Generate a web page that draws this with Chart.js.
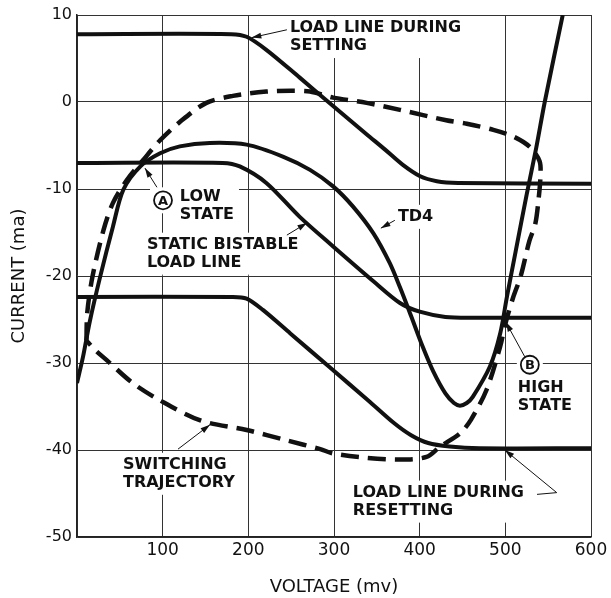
<!DOCTYPE html>
<html>
<head>
<meta charset="utf-8">
<script src="https://cdn.jsdelivr.net/npm/chart.js@4.4.0/dist/chart.umd.min.js"></script>
<style>
    html, body { margin: 0; padding: 0; background: #fff; }
    #wrap { width: 611px; height: 598px; }
</style>
</head>
<body>
<div id="wrap"><canvas id="ivChart" width="611" height="598"></canvas></div>
<script>
    // voltage (mv) / current (ma) pairs
    var settingVoltage = [0, 180, 198, 221, 260, 291, 338, 360, 380, 400, 420, 445, 600];
    var settingCurrent = [7.8, 7.8, 7.5, 6.0, 2.8, 0.2, -3.7, -5.5, -7.2, -8.5, -9.1, -9.3, -9.4];

    var staticVoltage = [0, 170, 190, 221, 260, 299, 346, 377, 400, 430, 460, 600];
    var staticCurrent = [-7.0, -7.0, -7.4, -9.3, -13.2, -16.6, -20.6, -23.1, -24.1, -24.7, -24.8, -24.8];

    var resetVoltage = [0, 182, 198, 217, 249, 295, 340, 370, 390, 410, 435, 470, 600];
    var resetCurrent = [-22.4, -22.4, -22.6, -23.9, -26.6, -30.5, -34.3, -36.9, -38.3, -39.2, -39.6, -39.8, -39.8];

    var td4Voltage = [0, 7, 15, 27, 42, 54, 74, 97, 120, 155, 198, 241, 272, 299, 322, 346, 365, 377, 390, 403, 416, 430, 440, 447, 455, 462, 482, 494, 502, 512, 525, 536, 546, 567];
    var td4Current = [-32.3, -29.3, -25.2, -20.1, -14.3, -10.1, -7.4, -5.9, -5.1, -4.7, -4.9, -6.3, -7.8, -9.7, -12.0, -15.1, -18.5, -21.3, -24.6, -28.0, -31.0, -33.5, -34.6, -34.9, -34.6, -33.9, -30.4, -26.6, -22.3, -17.2, -10.6, -5.3, 0, 10];

    var switchVoltage = [11, 12, 18, 31, 42, 58, 77, 97, 120, 151, 182, 221, 250, 272, 299, 338, 377, 431, 455, 486, 510, 529, 540, 541, 539, 535, 528, 518, 509, 500, 494, 478, 460, 447, 424, 408, 377, 338, 299, 284, 245, 198, 144, 97, 65, 35, 20, 11];
    var switchCurrent = [-27.4, -24.2, -20.1, -14.7, -11.6, -9.0, -6.7, -4.4, -2.3, -0.1, 0.7, 1.2, 1.3, 1.2, 0.5, -0.1, -0.9, -2.1, -2.5, -3.2, -4.0, -5.2, -6.8, -8.5, -11.0, -14.0, -16.0, -20.0, -22.5, -25.5, -28.1, -33.1, -36.5, -38.1, -39.6, -40.8, -41.1, -40.9, -40.4, -39.9, -38.9, -37.7, -36.6, -34.3, -32.3, -29.7, -28.4, -27.4];

    var voltageTicks = [0, 100, 200, 300, 400, 500, 600];
    var currentTicks = [10, 0, -10, -20, -30, -40, -50];

    var ink = '#111';
    var font = 'DejaVu Sans';
    var noteFont = 'bold 16px "' + font + '"';

    // labels and leaders, placed in data units
    var notes = [
        { lines: ['LOAD LINE DURING', 'SETTING'], x: 248.5, y: 8.5 },
        { lines: ['LOW', 'STATE'], x: 120, y: -10.9, circle: { text: 'A', x: 100.4, y: -11.3 } },
        { lines: ['STATIC BISTABLE', 'LOAD LINE'], x: 81.7, y: -16.4 },
        { lines: ['TD4'], x: 374.6, y: -13.2 },
        { lines: ['HIGH', 'STATE'], x: 514.6, y: -32.9, circle: { text: 'B', x: 528.6, y: -30.2 } },
        { lines: ['SWITCHING', 'TRAJECTORY'], x: 53.7, y: -41.7 },
        { lines: ['LOAD LINE DURING', 'RESETTING'], x: 322, y: -44.9 }
    ];
    var leaders = [
        [[245, 8.3], [204, 7.4]],
        [[93.3, -9.8], [79.3, -7.6]],
        [[245, -15.3], [268.4, -13.9]],
        [[371, -13.6], [354.7, -14.5]],
        [[522.8, -29.3], [500.6, -25.3]],
        [[117.9, -39.9], [155.2, -37.1]],
        [[537, -45.1], [560, -44.9], [499.4, -40.0]]
    ];

    function toPoints(xs, ys) {
        return xs.map(function (v, i) { return { x: v, y: ys[i] }; });
    }

    function solid(data) {
        return { data: data, borderColor: ink, borderWidth: 4, pointRadius: 0, tension: 0.3, fill: false };
    }

    var notesPlugin = {
        id: 'notes',
        beforeDatasetsDraw: function (chart) {
            var ctx = chart.ctx, sx = chart.scales.x, sy = chart.scales.y;
            ctx.save();
            ctx.font = noteFont;
            ctx.fillStyle = '#fff';
            // white boxes break the grid behind the text, as on the original
            notes.forEach(function (n) {
                var left = sx.getPixelForValue(n.x), top = sy.getPixelForValue(n.y);
                var w = Math.max.apply(null, n.lines.map(function (t) { return ctx.measureText(t).width; }));
                ctx.fillRect(left - 5, top - 12, w + 10, n.lines.length * 18 + 6);
                if (n.circle) {
                    var cx = sx.getPixelForValue(n.circle.x), cy = sy.getPixelForValue(n.circle.y);
                    ctx.fillRect(cx - 13, cy - 13, 26, 26);
                }
            });
            ctx.restore();
        },
        afterDatasetsDraw: function (chart) {
            var ctx = chart.ctx, sx = chart.scales.x, sy = chart.scales.y;
            ctx.save();
            ctx.fillStyle = ink;
            ctx.strokeStyle = ink;
            ctx.font = noteFont;
            ctx.textBaseline = 'middle';
            ctx.textAlign = 'left';
            notes.forEach(function (n) {
                var left = sx.getPixelForValue(n.x), top = sy.getPixelForValue(n.y);
                n.lines.forEach(function (t, i) { ctx.fillText(t, left, top + i * 18); });
                if (n.circle) {
                    var cx = sx.getPixelForValue(n.circle.x), cy = sy.getPixelForValue(n.circle.y);
                    ctx.lineWidth = 1.8;
                    ctx.beginPath();
                    ctx.arc(cx, cy, 9, 0, Math.PI * 2);
                    ctx.stroke();
                    ctx.textAlign = 'center';
                    ctx.font = 'bold 13px "' + font + '"';
                    ctx.fillText(n.circle.text, cx, cy + 1);
                    ctx.textAlign = 'left';
                    ctx.font = noteFont;
                }
            });
            ctx.lineWidth = 1;
            leaders.forEach(function (pts) {
                var px = pts.map(function (p) { return [sx.getPixelForValue(p[0]), sy.getPixelForValue(p[1])]; });
                ctx.beginPath();
                ctx.moveTo(px[0][0], px[0][1]);
                for (var i = 1; i < px.length; i++) ctx.lineTo(px[i][0], px[i][1]);
                ctx.stroke();
                // small arrowhead at the end
                var a = px[px.length - 2], b = px[px.length - 1];
                var ang = Math.atan2(b[1] - a[1], b[0] - a[0]);
                ctx.beginPath();
                ctx.moveTo(b[0], b[1]);
                ctx.lineTo(b[0] - 10 * Math.cos(ang - 0.3), b[1] - 10 * Math.sin(ang - 0.3));
                ctx.lineTo(b[0] - 10 * Math.cos(ang + 0.3), b[1] - 10 * Math.sin(ang + 0.3));
                ctx.closePath();
                ctx.fill();
            });
            ctx.restore();
        }
    };

    var ctx = document.getElementById('ivChart').getContext('2d');
    var ivChart = new Chart(ctx, {
        type: 'line',
        data: {
            datasets: [
                solid(toPoints(settingVoltage, settingCurrent)),
                solid(toPoints(staticVoltage, staticCurrent)),
                solid(toPoints(resetVoltage, resetCurrent)),
                solid(toPoints(td4Voltage, td4Current)),
                {
                    data: toPoints(switchVoltage, switchCurrent),
                    borderColor: ink,
                    borderWidth: 4.5,
                    borderDash: [18, 9],
                    pointRadius: 0,
                    tension: 0.3,
                    fill: false
                }
            ]
        },
        options: {
            responsive: false,
            animation: false,
            layout: { padding: { left: 0, right: 20, top: 15, bottom: 0 } },
            plugins: { legend: { display: false }, tooltip: { enabled: false } },
            scales: {
                x: {
                    type: 'linear',
                    min: 0,
                    max: 600,
                    afterBuildTicks: function (axis) { axis.ticks = voltageTicks.map(function (v) { return { value: v }; }); },
                    afterFit: function (axis) { axis.height = 61; },
                    ticks: {
                        color: ink,
                        padding: 3,
                        maxRotation: 0,
                        font: { family: font, size: 17 },
                        callback: function (v) { return v === 0 ? '' : v; }
                    },
                    grid: { color: '#333', lineWidth: 1, drawTicks: false },
                    border: { color: '#222', width: 1.5 },
                    title: {
                        display: true,
                        text: 'VOLTAGE (mv)',
                        color: ink,
                        font: { family: font, size: 18 },
                        padding: { top: 0, bottom: 0 }
                    }
                },
                y: {
                    type: 'linear',
                    min: -50,
                    max: 10,
                    afterBuildTicks: function (axis) { axis.ticks = currentTicks.map(function (v) { return { value: v }; }); },
                    afterFit: function (axis) { axis.width = 77; },
                    ticks: {
                        color: ink,
                        padding: 5,
                        font: { family: font, size: 16 }
                    },
                    grid: { color: '#333', lineWidth: 1, drawTicks: false },
                    border: { color: '#222', width: 1.5 },
                    title: {
                        display: true,
                        text: 'CURRENT (ma)',
                        color: ink,
                        font: { family: font, size: 18 },
                        padding: { top: 9, bottom: 0 }
                    }
                }
            }
        },
        plugins: [notesPlugin]
    });
</script>
</body>
</html>
